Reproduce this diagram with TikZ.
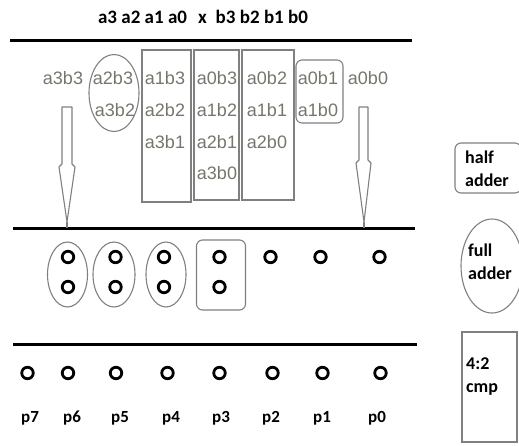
\documentclass[tikz,border=0pt]{standalone}
\usepackage{fontspec}
\setmainfont{Liberation Sans}
\newfontfamily\calib{Carlito}
\usetikzlibrary{shapes.geometric}
\definecolor{ppgray}{RGB}{118,118,108}
\definecolor{boxgray}{RGB}{128,128,128}

\begin{document}
\begin{tikzpicture}[x=1pt,y=-1pt,
    pp/.style={text=ppgray, font=\fontsize{18}{18}\selectfont, inner sep=0pt},
    bold/.style={font=\calib\bfseries\fontsize{#1}{#1}\selectfont, inner sep=0pt},
    legtext/.style={font=\calib\bfseries\fontsize{18}{23}\selectfont, align=left, anchor=west, inner sep=0pt},
    rule/.style={line width=3pt},
    dot/.style={draw, circle, line width=2.8pt, minimum size=11.5pt, inner sep=0pt},
    fabox/.style={draw=boxgray, ellipse, line width=1.1pt, inner sep=0pt},
    habox/.style={draw=boxgray, rectangle, rounded corners=6pt, line width=1.1pt, inner sep=0pt},
    cmpbox/.style={draw=boxgray, rectangle, line width=1.1pt, inner sep=0pt},
    arr/.style={draw=boxgray, line width=1.1pt, line join=round}]
            \useasboundingbox (0,0) rectangle (519,445);

            % operands
            \node[bold=19] (title) at (203,17) {a3 a2 a1 a0\hspace{11pt}x\hspace{9pt}b3 b2 b1 b0};
            \draw[rule] (10,40) -- (412,40);

            % partial products
            \node[pp] (a3b3) at (63,78) {a3b3};
            \node[pp] (a2b3) at (113,78) {a2b3};
            \node[pp] (a1b3) at (165,78) {a1b3};
            \node[pp] (a0b3) at (217,78) {a0b3};
            \node[pp] (a0b2) at (267,78) {a0b2};
            \node[pp] (a0b1) at (318,78) {a0b1};
            \node[pp] (a0b0) at (368,78) {a0b0};
            \node[pp] (a3b2) at (115,110) {a3b2};
            \node[pp] (a2b2) at (165,110) {a2b2};
            \node[pp] (a1b2) at (217,110) {a1b2};
            \node[pp] (a1b1) at (267,110) {a1b1};
            \node[pp] (a1b0) at (318,110) {a1b0};
            \node[pp] (a3b1) at (165,142) {a3b1};
            \node[pp] (a2b1) at (217,142) {a2b1};
            \node[pp] (a2b0) at (267,142) {a2b0};
            \node[pp] (a3b0) at (217,173) {a3b0};

            % first stage
            \node[fabox, minimum width=50, minimum height=77] (fa1) at (114,93) {};
            \node[cmpbox, minimum width=49, minimum height=152] (cmp1) at (166.5,126) {};
            \node[cmpbox, minimum width=45, minimum height=150] (cmp2) at (216.5,125) {};
            \node[cmpbox, minimum width=52, minimum height=150] (cmp3) at (268,125) {};
            \node[habox, minimum width=47, minimum height=63] (ha1) at (319.5,91.5) {};

            \draw[arr] (62,107) -- (72,107) -- (72,164) -- (75,167) -- (67,222) -- (59,167) -- (62,164) -- cycle;
            \draw[arr] (359,107) -- (368,107) -- (368,160) -- (371,163) -- (364,222) -- (356,163) -- (359,160) -- cycle;
            \coordinate (tipL) at (67,222);
            \coordinate (tipR) at (364,222);
            \draw[rule] (13,228) -- (415,228);
            \draw[arr] (tipL) -- (67,228);
            \draw[arr] (tipR) -- (364,228);

            % second stage
            \node[dot] (s6a) at (68,257) {};
            \node[dot] (s6b) at (68,287) {};
            \node[dot] (s5a) at (115.5,257) {};
            \node[dot] (s5b) at (115.5,287) {};
            \node[dot] (s4a) at (164,257) {};
            \node[dot] (s4b) at (164,287) {};
            \node[dot] (s3a) at (219.5,257) {};
            \node[dot] (s3b) at (219.5,287) {};
            \node[dot] (s2) at (270.5,257) {};
            \node[dot] (s1) at (320.5,257) {};
            \node[dot] (s0) at (379.5,257) {};
            \node[fabox, minimum width=40, minimum height=65] (fa2) at (67.5,274.5) {};
            \node[fabox, minimum width=42, minimum height=65] (fa3) at (114,274.5) {};
            \node[fabox, minimum width=40, minimum height=65] (fa4) at (166,274.5) {};
            \node[habox, minimum width=49, minimum height=70] (ha2) at (221,275) {};
            \draw[rule] (13,344) -- (417,344);

            % product
            \node[dot] (q7) at (27.5,373) {};
            \node[dot] (q6) at (68,373) {};
            \node[dot] (q5) at (116,373) {};
            \node[dot] (q4) at (167.5,373) {};
            \node[dot] (q3) at (219.5,373) {};
            \node[dot] (q2) at (272.5,373) {};
            \node[dot] (q1) at (322.5,373) {};
            \node[dot] (q0) at (380.5,373) {};
            \node[bold=17] (p7) at (30,418) {p7};
            \node[bold=17] (p6) at (72,418) {p6};
            \node[bold=17] (p5) at (120,418) {p5};
            \node[bold=17] (p4) at (171,418) {p4};
            \node[bold=17] (p3) at (221,418) {p3};
            \node[bold=17] (p2) at (271,418) {p2};
            \node[bold=17] (p1) at (322,418) {p1};
            \node[bold=17] (p0) at (377,418) {p0};

            % legend
            \node[habox, minimum width=66, minimum height=50] (lha) at (488,168) {};
            \node[legtext] (lhat) at (465,169) {half\\adder};
            \node[fabox, minimum width=62, minimum height=94] (lfa) at (492,266) {};
            \node[legtext] (lfat) at (468,262) {full\\adder};
            \node[cmpbox, minimum width=55, minimum height=110] (lcmp) at (489.5,387) {};
            \node[legtext] (lcmpt) at (466,377) {4:2\\cmp};
        \end{tikzpicture}
\end{document}
